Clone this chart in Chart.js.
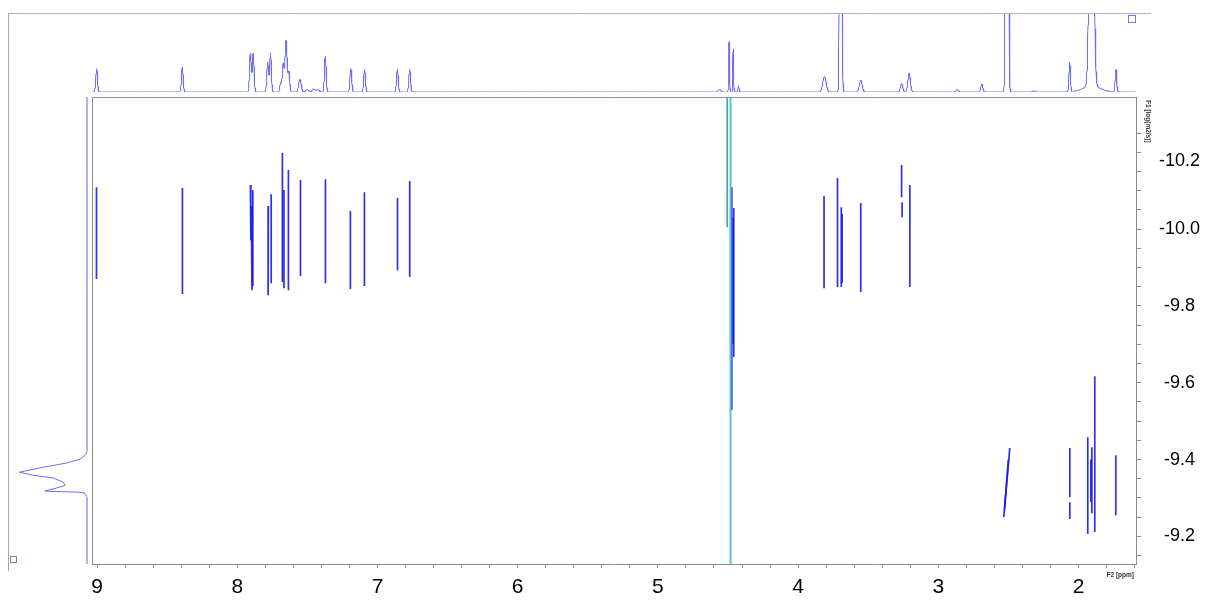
<!DOCTYPE html>
<html><head><meta charset="utf-8">
<script src="https://cdn.jsdelivr.net/npm/chart.js@4.4.1/dist/chart.umd.min.js"></script>
<style>
html,body{margin:0;padding:0;background:#fff;}
#wrap{position:relative;width:1208px;height:602px;overflow:hidden;background:#fff;}
canvas{position:absolute;left:0;top:0;}
</style></head><body>
<div id="wrap">
<canvas id="main" width="1208" height="602"></canvas>
<canvas id="topc" width="1208" height="602"></canvas>
<canvas id="side" width="1208" height="602"></canvas>
</div>
<script>
// ---------- axis labels / ranges ----------
const xTickLabels = [9, 8, 7, 6, 5, 4, 3, 2];
const yTickLabels = [-10.2, -10.0, -9.8, -9.6, -9.4, -9.2];
const ppmRange = [1.59, 9.036];
const dRange = [-10.344, -9.128];

// ---------- 1D 1H projection (top): peaks ----------
const peakPpm    = [9.003, 8.392, 7.906, 7.886, 7.783, 7.763, 7.690, 7.672, 7.652, 7.632, 7.553, 7.500, 7.455, 7.425, 7.372, 7.190, 7.092, 6.858, 6.770, 4.560, 4.492, 4.463, 4.425, 3.812, 3.696, 3.553, 3.262, 3.208, 2.865, 2.690, 2.510, 2.320, 2.063, 1.907, 1.907, 1.733];
const peakHeight = [30, 32, 50, 50, 38, 50, 12, 36, 66, 26, 16, 3, 4, 3, 46, 30, 29, 29, 29, 3, 65, 55, 8, 20, 1000, 15, 11, 24, 3, 10, 2000, 1.5, 38, 600, 8, 29];
const peakWidth  = [0.006, 0.006, 0.006, 0.006, 0.006, 0.006, 0.006, 0.006, 0.007, 0.006, 0.009, 0.01, 0.01, 0.01, 0.006, 0.006, 0.006, 0.006, 0.006, 0.01, 0.0028, 0.0028, 0.004, 0.012, 0.0056, 0.010, 0.008, 0.009, 0.008, 0.007, 0.0063, 0.01, 0.005, 0.0124, 0.06, 0.005];

// ---------- DOSY cross-peaks (ppm at top/bottom end, logD at top/bottom end) ----------
const contourPpmTop    = [9.004, 8.391, 7.906, 7.900, 7.889, 7.778, 7.758, 7.678, 7.667, 7.635, 7.549, 7.371, 7.193, 7.093, 6.857, 6.770, 4.473, 4.459, 4.463, 3.815, 3.719, 3.692, 3.686, 3.553, 3.262, 3.258, 3.203, 2.490, 2.500, 2.062, 2.062, 1.934, 1.884, 1.905, 1.912, 1.734];
const contourPpmBottom = [9.004, 8.391, 7.903, 7.895, 7.889, 7.780, 7.758, 7.678, 7.667, 7.635, 7.549, 7.371, 7.193, 7.093, 6.857, 6.770, 4.473, 4.459, 4.463, 3.815, 3.719, 3.692, 3.686, 3.553, 3.262, 3.258, 3.203, 2.533, 2.528, 2.062, 2.062, 1.934, 1.884, 1.905, 1.912, 1.734];
const contourDTop      = [-10.109, -10.107, -10.115, -10.060, -10.102, -10.060, -10.091, -10.198, -10.102, -10.154, -10.128, -10.130, -10.047, -10.096, -10.081, -10.125, -10.109, -10.055, -10.030, -10.086, -10.133, -10.057, -10.040, -10.068, -10.167, -10.070, -10.115, -9.430, -9.400, -9.430, -9.289, -9.458, -9.617, -9.432, -9.400, -9.411];
const contourDBottom   = [-9.870, -9.831, -9.971, -9.841, -9.852, -9.828, -9.859, -9.862, -9.846, -9.841, -9.878, -9.859, -9.844, -9.852, -9.893, -9.875, -9.529, -9.667, -9.700, -9.846, -9.849, -9.849, -9.860, -9.836, -10.083, -10.031, -9.849, -9.250, -9.270, -9.302, -9.245, -9.206, -9.211, -9.260, -9.290, -9.255];

// residual water / artefact lines (teal)
const waterPpm    = [4.482, 4.506];
const waterDTop   = [-10.344, -10.344];
const waterDBottom= [-9.128, -10.005];

// ---------- 1D projection on the diffusion axis (left) ----------
const sideD         = [-10.344, -9.419, -9.411, -9.401, -9.391, -9.380, -9.367, -9.359, -9.352, -9.341, -9.333, -9.326, -9.318, -9.317, -9.315, -9.312, -9.302, -9.128];
const sideIntensity = [0, 0, 2.9, 9.2, 26, 55.5, 85.8, 68.1, 42.9, 30.3, 28.1, 38.6, 53.3, 47, 9.2, 2.9, 0, 0];

// =====================================================================
const FONT = "'Liberation Sans', Arial, Helvetica, sans-serif";
const AXIS_GREY = '#8c8c8c';
const SPEC_COLOR = 'rgb(110,110,238)';
const CONTOUR_COLOR = 'rgba(25,25,232,0.9)';

const common = {
  responsive: false, animation: false, events: [],
  plugins: { legend: { display: false }, tooltip: { enabled: false } }
};

// build top spectrum points from the peak table (Gaussian line shapes)
const specPts = [];
for (let p = ppmRange[1]; p >= ppmRange[0]; p -= 0.0012) {
  let v = 0;
  for (let i = 0; i < peakPpm.length; i++) {
    const d = (p - peakPpm[i]) / peakWidth[i];
    if (Math.abs(d) < 8) v += peakHeight[i] * Math.exp(-0.5 * d * d);
  }
  specPts.push({ x: p, y: v });
}

// ---------- main 2D plot ----------
const contourSets = contourPpmTop.map((p, i) => ({
  data: [{ x: p, y: contourDTop[i] }, { x: contourPpmBottom[i], y: contourDBottom[i] }],
  showLine: true, borderColor: CONTOUR_COLOR, borderWidth: 1.7, pointRadius: 0
}));
const waterSets = waterPpm.map((p, i) => ({
  data: [{ x: p, y: waterDTop[i] }, { x: p, y: waterDBottom[i] }],
  showLine: true, borderColor: i === 0 ? 'rgb(80,200,200)' : 'rgb(40,150,160)',
  borderWidth: i === 0 ? 2 : 1.4, pointRadius: 0
}));

function xTicks() {
  const t = [];
  xTickLabels.forEach(v => { for (let k = 0; k < 5; k++) t.push(+(v - k * 0.2).toFixed(2)); });
  t.push(1.6);
  return t.filter(v => v >= ppmRange[0] && v <= ppmRange[1]);
}
function yTicks() {
  const t = [];
  yTickLabels.forEach(v => { for (let k = -1; k <= 2; k++) t.push(+(v + k * 0.05).toFixed(2)); });
  return [...new Set(t)].filter(v => v >= dRange[0] && v <= dRange[1]).sort((a, b) => a - b);
}
const isLabel = (v, arr) => arr.some(a => Math.abs(a - v) < 1e-6);

// the topmost diffusion label is pushed below the F1 title, as in the original software
const topLabelShift = {
  id: 'topLabelShift',
  beforeDraw(chart) {
    const sc = chart.scales.y;
    const items = sc.getLabelItems();
    items.forEach(it => {
      if (it.label === yTickLabels[0].toFixed(1) && !it._shifted) {
        it.options.translation = [it.options.translation[0], it.options.translation[1] + 9];
        it._shifted = true;
      }
    });
  }
};

const decor = {
  id: 'decor',
  afterDraw(chart) {
    const { ctx, chartArea: a } = chart;
    ctx.save();
    ctx.strokeStyle = AXIS_GREY; ctx.lineWidth = 1;
    ctx.beginPath();
    ctx.moveTo(a.left + 0.5, a.bottom); ctx.lineTo(a.left + 0.5, a.top + 0.5); ctx.lineTo(a.right, a.top + 0.5);
    ctx.stroke();
    ctx.strokeStyle = '#a3b7bd';
    ctx.beginPath(); ctx.moveTo(8, 13.5); ctx.lineTo(1151, 13.5); ctx.stroke();
    ctx.strokeStyle = '#a6a6a6';
    ctx.beginPath(); ctx.moveTo(8.5, 13); ctx.lineTo(8.5, 571); ctx.stroke();
    ctx.strokeStyle = 'rgb(120,120,232)';
    ctx.strokeRect(10.5, 556.5, 6, 6);
    ctx.strokeRect(1128.5, 15.5, 7, 7);
    ctx.fillStyle = '#333';
    ctx.font = 'bold 6.5px ' + FONT;
    ctx.textAlign = 'right'; ctx.textBaseline = 'middle';
    ctx.fillText('F2 [ppm]', 1134, 575);
    ctx.translate(1148, 100);
    ctx.rotate(Math.PI / 2);
    ctx.textAlign = 'left';
    ctx.fillText('F1 [log(m2/s)]', 0, 0);
    ctx.restore();
  }
};

new Chart(document.getElementById('main'), {
  type: 'scatter',
  data: { datasets: [...waterSets, ...contourSets] },
  options: {
    ...common,
    layout: { padding: { left: 92, top: 97, right: 0, bottom: 0 } },
    scales: {
      x: {
        type: 'linear', position: 'bottom', reverse: true, min: ppmRange[0], max: ppmRange[1],
        afterBuildTicks: s => { s.ticks = xTicks().map(v => ({ value: v })); },
        afterFit: s => { s.height = 38; },
        ticks: { autoSkip: false, maxRotation: 0, padding: 7, color: '#000',
          font: { family: FONT, size: 21 },
          callback: v => isLabel(v, xTickLabels) ? String(Math.round(v)) : '' },
        grid: { drawOnChartArea: false, drawTicks: true, tickLength: 4, color: AXIS_GREY },
        border: { display: true, color: AXIS_GREY }
      },
      y: {
        type: 'linear', position: 'right', reverse: true, min: dRange[0], max: dRange[1],
        afterBuildTicks: s => { s.ticks = yTicks().map(v => ({ value: v })); },
        afterFit: s => { s.width = 72; },
        ticks: { autoSkip: false, crossAlign: 'center', padding: 18, color: '#000',
          font: { family: FONT, size: 18 },
          callback: v => isLabel(v, yTickLabels) ? v.toFixed(1) : '' },
        grid: { drawOnChartArea: false, drawTicks: true, tickLength: 5, color: AXIS_GREY },
        border: { display: true, color: AXIS_GREY }
      }
    }
  },
  plugins: [topLabelShift, decor]
});

// ---------- top 1D spectrum ----------
new Chart(document.getElementById('topc'), {
  type: 'scatter',
  data: { datasets: [{ data: specPts, showLine: true, borderColor: SPEC_COLOR, borderWidth: 1, pointRadius: 0 }] },
  options: {
    ...common,
    layout: { padding: { left: 92, right: 72, top: 14, bottom: 510 } },
    scales: {
      x: { type: 'linear', display: false, reverse: true, min: ppmRange[0], max: ppmRange[1] },
      y: { type: 'linear', display: false, min: 0, max: 100 }
    }
  }
});

// ---------- left diffusion projection ----------
new Chart(document.getElementById('side'), {
  type: 'scatter',
  data: { datasets: [{ data: sideD.map((d, i) => ({ x: sideIntensity[i], y: d })), showLine: true,
    borderColor: SPEC_COLOR, borderWidth: 1, pointRadius: 0 }] },
  options: {
    ...common,
    layout: { padding: { left: 8, right: 1120.7, top: 97, bottom: 38 } },
    scales: {
      x: { type: 'linear', display: false, reverse: true, min: 0, max: 100 },
      y: { type: 'linear', display: false, reverse: true, min: dRange[0], max: dRange[1] }
    }
  }
});
</script>
</body></html>
